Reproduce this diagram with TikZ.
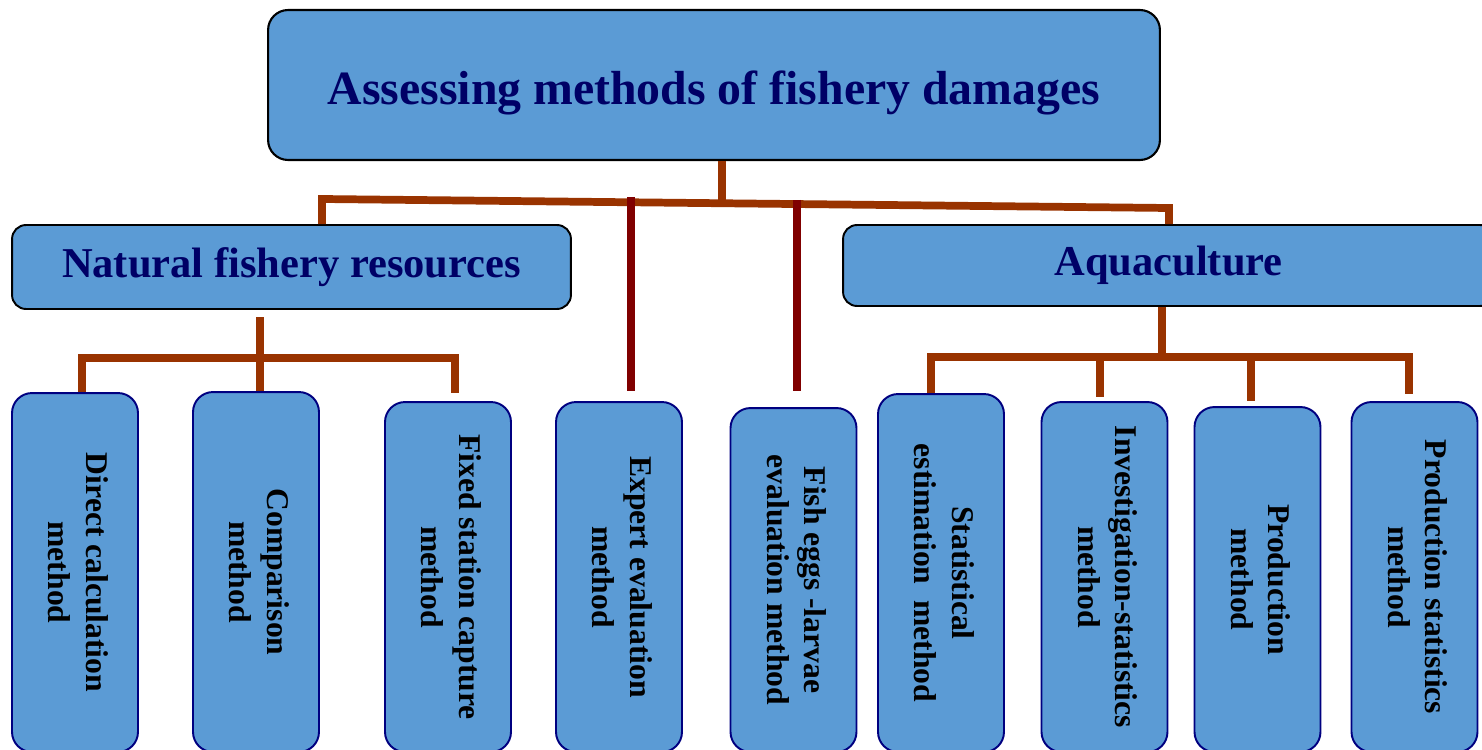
\documentclass[tikz,border=0pt]{standalone}
\usepackage{fontspec}
\setmainfont{Liberation Serif}
\definecolor{boxblue}{HTML}{5B9BD5}
\definecolor{navytext}{HTML}{000066}
\definecolor{navyline}{HTML}{000080}
\definecolor{brownline}{HTML}{993300}
\definecolor{redline}{HTML}{800000}
\newcommand\vlabel[1]{\rotatebox{-90}{\begin{tabular}{@{}c@{}}#1\end{tabular}}}
\begin{document}
\begin{tikzpicture}[x=0.02cm,y=-0.02cm,
 topbox/.style={draw=black, line width=1.2pt, fill=boxblue, rounded corners=0.4cm, inner sep=0pt,
   font=\fontsize{27.2}{32}\selectfont\bfseries, text=navytext, text height=28pt, text depth=6pt},
 midbox/.style={draw=black, line width=1.1pt, fill=boxblue, rounded corners=0.28cm, inner sep=0pt,
   font=\fontsize{24.2}{28}\selectfont\bfseries, text=navytext},
 leafbox/.style={draw=navyline, line width=1.1pt, fill=boxblue, rounded corners=0.4cm, inner sep=0pt,
   minimum width=2.52cm, font=\fontsize{18}{21.5}\selectfont\bfseries, text=black},
 conn/.style={draw=brownline, line width=4.4pt},
 conn2/.style={draw=redline, line width=4.4pt}]
\useasboundingbox (0,0) rectangle (1482,750);

% boxes
\node[topbox, minimum width=17.84cm, minimum height=3cm] (top) at (714,85) {Assessing methods of fishery damages};
\node[midbox, minimum width=11.18cm, minimum height=1.68cm] (nfr) at (291.5,267) {Natural fishery resources\hspace{0.2cm}};
\node[midbox, minimum width=13.02cm, minimum height=1.62cm] (aqua) at (1168.5,265.5) {Aquaculture};

\node[leafbox, minimum height=7.18cm] (direct) at (75,572.5) {\vlabel{Direct calculation\\method}};
\node[leafbox, minimum height=7.2cm] (comp) at (256,572) {\vlabel{Comparison\\method}};
\node[leafbox, minimum height=7.0cm] (fixed) at (448,577) {\vlabel{Fixed station capture\\method}};
\node[leafbox, minimum height=7.0cm] (expert) at (619,577) {\vlabel{Expert evaluation\\method}};
\node[leafbox, minimum height=6.88cm] (fish) at (793.5,580) {\vlabel{Fish eggs -larvae\\evaluation method}};
\node[leafbox, minimum height=7.16cm] (stat) at (941,573) {\vlabel{Statistical\\estimation\ \ method}};
\node[leafbox, minimum height=7.0cm] (invest) at (1104.5,577) {\vlabel{Investigation-statistics\\method}};
\node[leafbox, minimum height=6.9cm] (prod) at (1257.5,579.5) {\vlabel{Production\\method}};
\node[leafbox, minimum height=7.0cm] (prodstat) at (1414.5,577) {\vlabel{Production statistics\\method}};

% main tree
\coordinate (tj) at (722,202);
\coordinate (lj) at (322,199);
\coordinate (rj) at (1169,208);
\draw[conn] (top.south -| tj) -- (tj);
\draw[conn] (nfr.north -| lj) -- (lj) -- (rj) -- (aqua.north -| rj);

% dark red lines
\coordinate (ex1) at (631,197);
\coordinate (ex2) at (631,391);
\coordinate (fe1) at (797,200);
\coordinate (fe2) at (797,391);
\draw[conn2] (ex1) -- (ex2);
\draw[conn2] (fe1) -- (fe2);

% natural fishery resources subtree
\coordinate (ns1) at (260,317);
\coordinate (ns2) at (260,358);
\coordinate (nbL) at (82,358);
\coordinate (nbR) at (455,358);
\coordinate (nfx) at (455,393);
\draw[conn] (ns1) -- (ns2);
\draw[conn] (direct.north -| nbL) -- (nbL) -- (nbR) -- (nfx);
\draw[conn] (ns2) -- (comp.north -| ns2);

% aquaculture subtree
\coordinate (as) at (1162,357);
\coordinate (abL) at (931,357);
\coordinate (abR) at (1409,357);
\coordinate (apx) at (1409,394);
\coordinate (ai1) at (1100,357);
\coordinate (ai2) at (1100,397);
\coordinate (ap1) at (1251,357);
\coordinate (ap2) at (1251,401);
\draw[conn] (aqua.south -| as) -- (as);
\draw[conn] (stat.north -| abL) -- (abL) -- (abR) -- (apx);
\draw[conn] (ai1) -- (ai2);
\draw[conn] (ap1) -- (ap2);
\end{tikzpicture}
\end{document}
